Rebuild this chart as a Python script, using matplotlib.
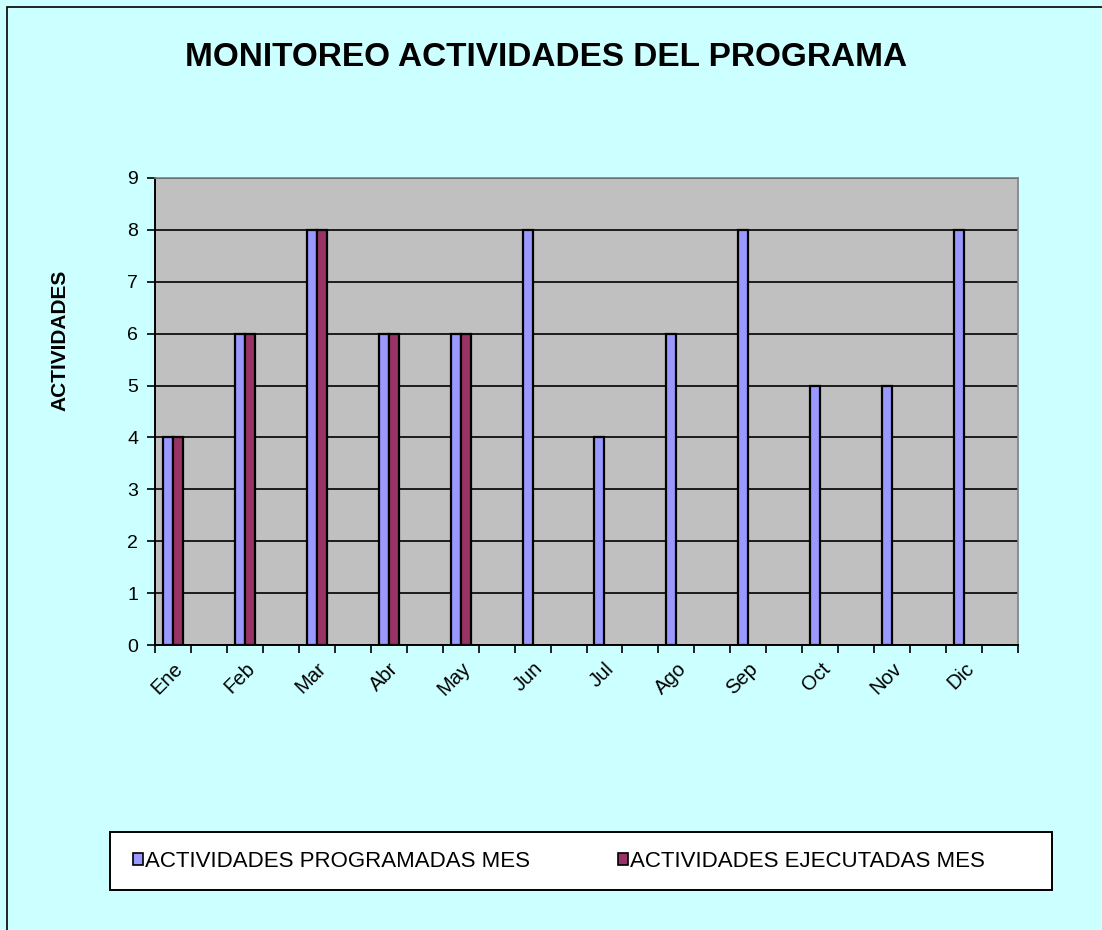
import matplotlib
matplotlib.use("Agg")
import matplotlib.pyplot as plt
from matplotlib.patches import Rectangle, Patch
import numpy as np

plt.rcParams['font.family'] = ['Liberation Sans', 'DejaVu Sans']

months = ["Ene", "Feb", "Mar", "Abr", "May", "Jun", "Jul", "Ago", "Sep", "Oct", "Nov", "Dic"]
programadas = [4, 6, 8, 6, 6, 8, 4, 6, 8, 5, 5, 8]
ejecutadas = [4, 6, 8, 6, 6, 0, 0, 0, 0, 0, 0, 0]
series_names = ["ACTIVIDADES PROGRAMADAS MES", "ACTIVIDADES EJECUTADAS MES"]
title = "MONITOREO ACTIVIDADES DEL PROGRAMA"
ylabel = "ACTIVIDADES"

n_slots = 24
bg = "#CCFFFF"
c_prog = "#9999FF"
c_ejec = "#993366"

fig = plt.figure(figsize=(11.02, 9.30), dpi=100, facecolor=bg)
ax = fig.add_axes([155/1102, 1-645/930, (1018-155)/1102, (645-178)/930])
ax.set_facecolor("#C0C0C0")

x = np.arange(len(months)) * 2 + 0.5
w = 10/36
prog_h = np.array(programadas, dtype=float)
ejec_h = np.array(ejecutadas, dtype=float)
ax.bar(x - w/2, prog_h, width=w, color=c_prog, edgecolor="black", linewidth=1.6, zorder=3)
mask = ejec_h > 0
ax.bar((x + w/2)[mask], ejec_h[mask], width=w, color=c_ejec, edgecolor="black", linewidth=1.6, zorder=3)

ax.set_xlim(0, n_slots)
ax.set_ylim(0, 9)
ax.set_yticks(range(0, 10))
ax.yaxis.grid(True, color="black", linewidth=1.2, zorder=1)
ax.set_axisbelow(True)
ax.set_xticks(np.arange(0, n_slots + 1))
ax.set_xticklabels([])
ax.set_xticks(x, minor=True)
ax.set_xticklabels(months, minor=True, rotation=45, ha="right", rotation_mode="anchor", fontsize=14.5)
ax.tick_params(axis="x", which="minor", length=0, pad=10)
ax.tick_params(axis="x", which="major", length=6, width=1.2, direction="out")
ax.tick_params(axis="y", length=6, width=1.2, labelsize=14, pad=6)
for s in ["top", "right"]:
    ax.spines[s].set_color("#808080")
    ax.spines[s].set_linewidth(1.2)
for s in ["left", "bottom"]:
    ax.spines[s].set_color("black")
    ax.spines[s].set_linewidth(1.4)

fig.text(60/1102, 1-340/930, ylabel, rotation=90, ha="center", va="center",
         fontsize=15, fontweight="bold")
fig.text(546/1102, 1-58/930, title, ha="center", va="center", fontsize=24, fontweight="bold")

# legend box
fig.add_artist(Rectangle((110/1102, 1-890/930), (1052-110)/1102, (890-832)/930,
                         transform=fig.transFigure, facecolor="white", edgecolor="black",
                         linewidth=1.4, zorder=2))
handles = [Patch(facecolor=c_prog, edgecolor="black", linewidth=1.2),
           Patch(facecolor=c_ejec, edgecolor="black", linewidth=1.2)]
leg = fig.legend(handles, series_names, loc="center", ncol=2,
                 bbox_to_anchor=(559/1102, 1-861/930),
                 frameon=False, fontsize=16, handlelength=0.45, handleheight=0.45,
                 handletextpad=0.1, borderaxespad=0, columnspacing=3.95)
leg.set_zorder(3)

fig.add_artist(Rectangle((7/1102, -0.01), 1.1, 1-7/930 + 0.01, transform=fig.transFigure,
                         fill=False, edgecolor="black", linewidth=1.2))

fig.savefig("out.png", dpi=100, facecolor=bg)
